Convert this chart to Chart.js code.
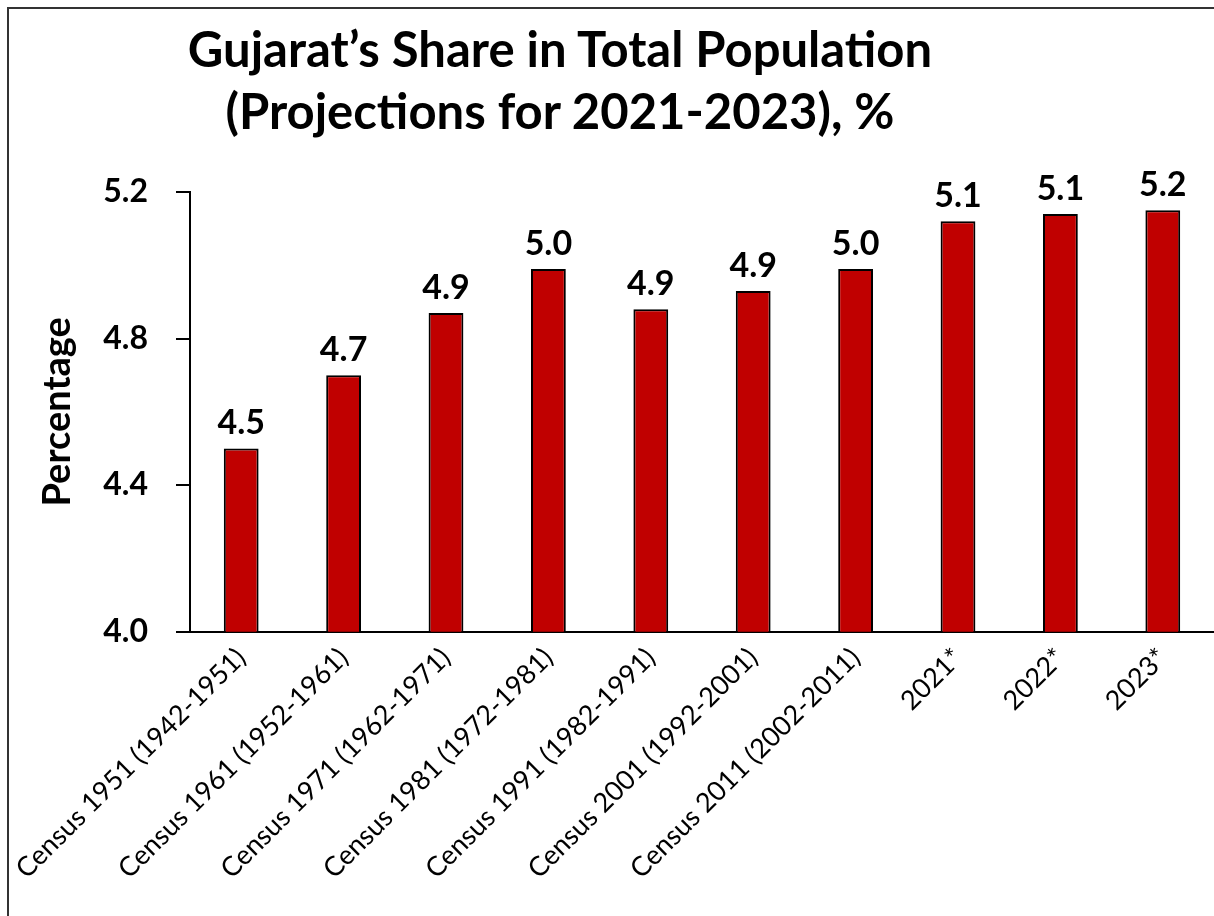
<!DOCTYPE html>
<html lang="en">
<head>
    <meta charset="UTF-8">
    <title>Gujarat's Share in Total Population</title>
    <script src="https://cdn.jsdelivr.net/npm/chart.js"></script>
    <style>
        html, body {
            margin: 0;
            padding: 0;
            background: #ffffff;
            overflow: hidden;
        }
        .wrap {
            position: relative;
            width: 1214px;
            height: 916px;
        }
        .frame {
            position: absolute;
            left: 7px;
            top: 7px;
            width: 1220px;
            height: 920px;
            border-left: 2px solid #333;
            border-top: 2px solid #333;
        }
        h1 {
            position: absolute;
            left: 0;
            top: 17px;
            width: 1120px;
            margin: 0;
            text-align: center;
            font-family: Lato, "Open Sans", sans-serif;
            font-weight: bold;
            font-size: 49px;
            line-height: 62px;
            color: #000;
        }
        canvas {
            position: absolute;
            left: 0;
            top: 0;
        }
    </style>
</head>
<body>

<div class="wrap">
    <div class="frame"></div>
    <canvas id="shareChart" width="1214" height="916"></canvas>
    <h1>Gujarat’s Share in Total Population<br>(Projections for 2021-2023), %</h1>
</div>

<script>
    // dados
    const categorias = [
        "Census 1951 (1942-1951)",
        "Census 1961 (1952-1961)",
        "Census 1971 (1962-1971)",
        "Census 1981 (1972-1981)",
        "Census 1991 (1982-1991)",
        "Census 2001 (1992-2001)",
        "Census 2011 (2002-2011)",
        "2021*",
        "2022*",
        "2023*"
    ];
    const valores = [4.50, 4.70, 4.87, 4.99, 4.88, 4.93, 4.99, 5.12, 5.14, 5.15];
    const rotulos = ["4.5", "4.7", "4.9", "5.0", "4.9", "4.9", "5.0", "5.1", "5.1", "5.2"];
    const ticksY = [4.0, 4.4, 4.8, 5.2];

    const fonte = 'Lato, "Open Sans", sans-serif';

    // rótulos em cima das barras
    const rotulosPlugin = {
        id: 'rotulosBarras',
        afterDatasetsDraw(chart) {
            const ctx = chart.ctx;
            const meta = chart.getDatasetMeta(0);
            ctx.save();
            ctx.fillStyle = '#000';
            ctx.font = 'bold 34px ' + fonte;
            ctx.textAlign = 'center';
            ctx.textBaseline = 'alphabetic';
            meta.data.forEach((bar, i) => {
                ctx.fillText(rotulos[i], bar.x, bar.y - 14);
            });
            ctx.restore();
        }
    };

    const ctx = document.getElementById('shareChart').getContext('2d');
    new Chart(ctx, {
        type: 'bar',
        data: {
            labels: categorias,
            datasets: [{
                data: valores,
                backgroundColor: '#C00000',
                borderColor: '#000000',
                borderWidth: 2,
                barPercentage: 0.34,
                categoryPercentage: 1
            }]
        },
        options: {
            responsive: false,
            animation: false,
            layout: {
                padding: { top: 192, left: 30, right: 0, bottom: 21 }
            },
            scales: {
                x: {
                    // os rótulos inclinados não empurram a área do gráfico
                    afterFit: (axis) => { axis.paddingLeft = 0; axis.paddingRight = 0; },
                    grid: { display: false, drawTicks: false },
                    border: { color: '#000', width: 2 },
                    ticks: {
                        color: '#000',
                        maxRotation: 45,
                        minRotation: 45,
                        autoSkip: false,
                        padding: 10,
                        font: { family: fonte, size: 27 }
                    }
                },
                y: {
                    min: 4.0,
                    max: 5.2,
                    afterFit: (axis) => { axis.width = 160; },
                    afterBuildTicks: (axis) => {
                        axis.ticks = ticksY.map(v => ({ value: v }));
                    },
                    grid: {
                        drawOnChartArea: false,
                        drawTicks: true,
                        tickLength: 14,
                        color: '#000',
                        lineWidth: 2
                    },
                    border: { color: '#000', width: 2 },
                    ticks: {
                        color: '#000',
                        padding: 28,
                        font: { family: fonte, size: 32, weight: 'bold' },
                        callback: (v) => Number(v).toFixed(1)
                    },
                    title: {
                        display: true,
                        text: 'Percentage',
                        color: '#000',
                        padding: { top: 5, bottom: 0 },
                        font: { family: fonte, size: 38, weight: 'bold' }
                    }
                }
            },
            plugins: {
                legend: { display: false },
                tooltip: { enabled: false },
                title: { display: false }
            }
        },
        plugins: [rotulosPlugin]
    });
</script>

</body>
</html>
